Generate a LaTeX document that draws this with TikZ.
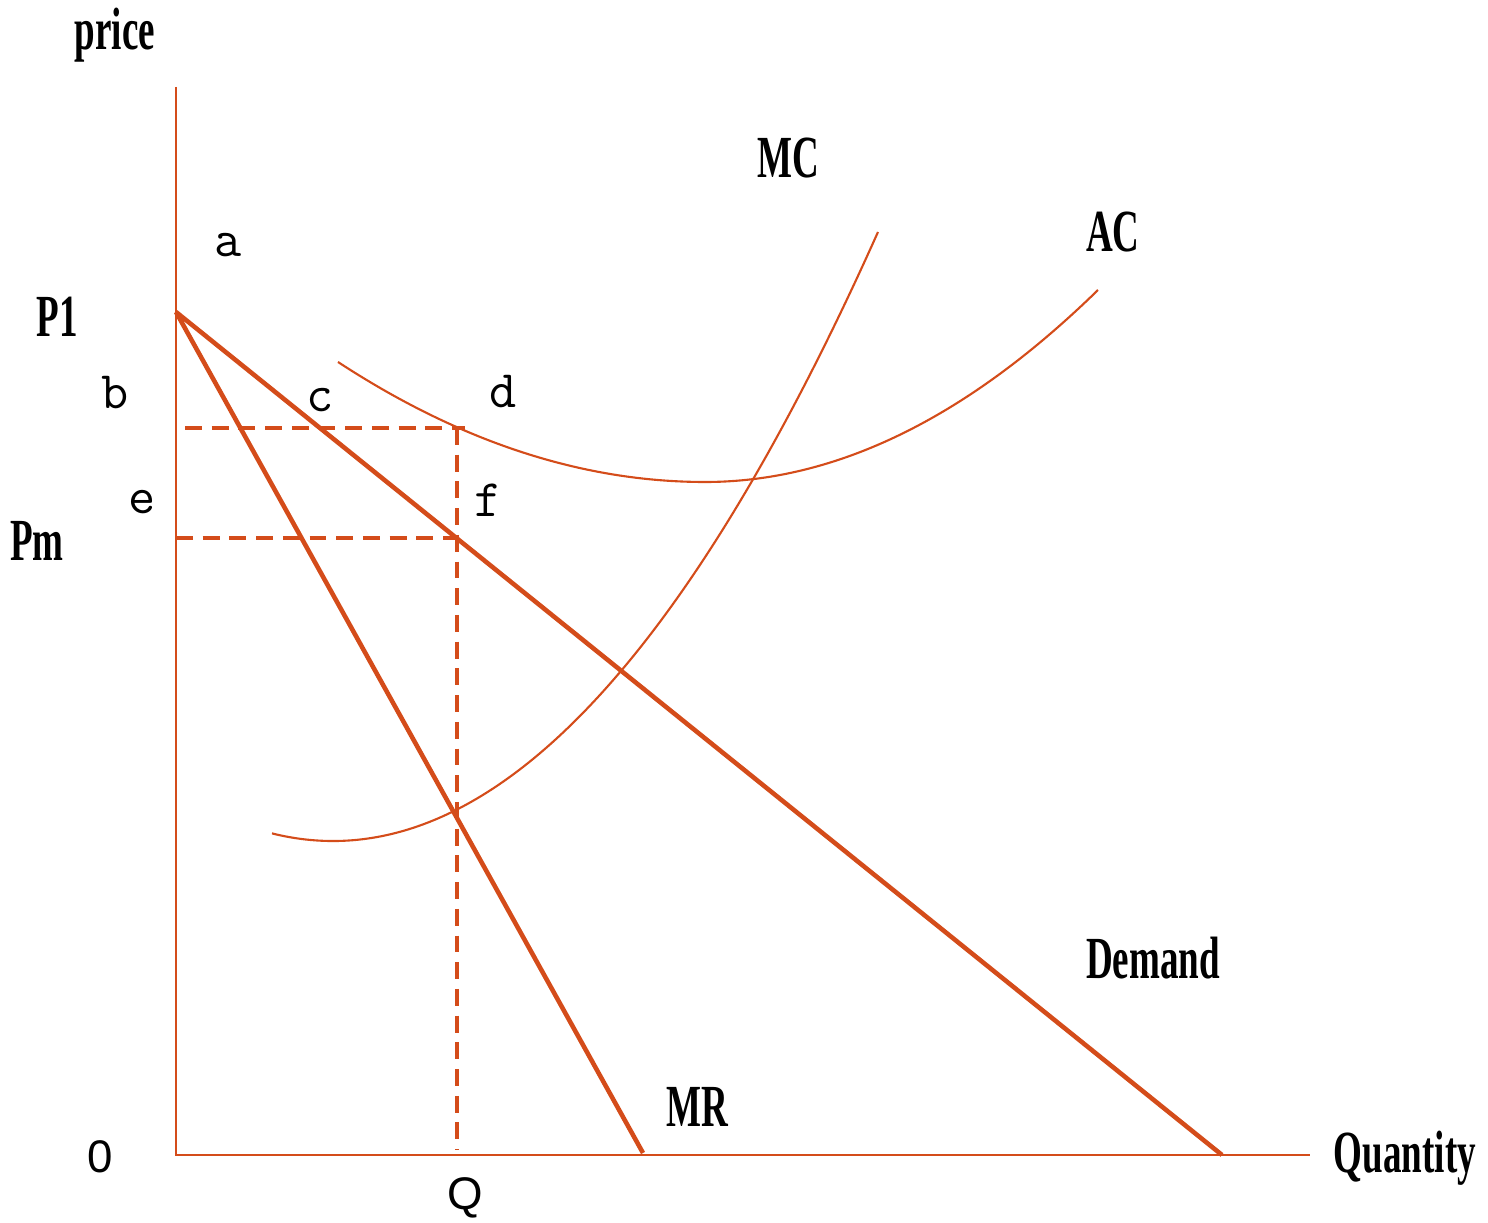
\documentclass[tikz,border=0pt]{standalone}
\usepackage{fontspec}
\usepackage{tikz}
\usetikzlibrary{positioning}
\newfontfamily\slabfont[FakeStretch=0.62]{Liberation Serif}
\newfontfamily\plainsans{Liberation Sans}
\definecolor{monored}{RGB}{212,76,26}

\begin{document}
\begin{tikzpicture}[
  axis/.style={monored, line width=0.7pt},
  curve/.style={monored, line width=1.3pt},
  costcurve/.style={monored, line width=0.6pt},
  guide/.style={monored, line width=1.4pt, dash pattern=on 4.8pt off 2.8pt},
  title/.style={font=\slabfont\bfseries\fontsize{17}{17}\selectfont, inner sep=0pt},
  point/.style={font=\ttfamily\fontsize{15}{15}\selectfont, inner sep=0pt},
  tick/.style={font=\plainsans\fontsize{13}{13}\selectfont, inner sep=0pt}
]
\useasboundingbox (0,0) rectangle (14.88,12.23);
\coordinate (O)    at (1.76,0.68);
\coordinate (ytop) at (1.76,11.36);
\coordinate (xend) at (13.10,0.68);
\coordinate (P1)   at (1.76,9.11);
\coordinate (dq)   at (12.22,0.68);
\coordinate (mrq)  at (6.43,0.70);
\coordinate (ps)   at (1.85,7.95);
\coordinate (pd)   at (4.65,7.95);
\coordinate (pm)   at (1.76,6.85);
\coordinate (pf)   at (4.57,6.85);
\coordinate (qtop) at (4.57,7.95);
\coordinate (qbot) at (4.57,0.73);

\draw[axis] (ytop) -- (O) -- (xend);
\draw[curve] (P1) -- (dq);
\draw[curve] (P1) -- (mrq);
\draw[guide] (ps) -- (pd);
\draw[guide] (pm) -- (pf);
\draw[guide] (qtop) -- (qbot);
\draw[costcurve] (2.72,3.896) .. controls (4.74,3.391) and (6.76,5.395) .. (8.78,9.91);
\draw[costcurve] (3.38,8.61) .. controls (4.603,7.81) and (5.827,7.41) .. (7.05,7.41)
  .. controls (8.36,7.41) and (9.67,8.05) .. (10.98,9.33);

\node[title] (price)  at (1.15,11.88) {price};
\node[title] (p1lab)  at (0.57,9.06)  {P1};
\node[title] (pmlab)  at (0.37,6.82)  {Pm};
\node[title] (mclab)  at (7.88,10.65) {MC};
\node[title] (aclab)  at (11.13,9.91) {AC};
\node[title] (dlab)   at (11.53,2.65) {Demand};
\node[title] (mrlab)  at (6.97,1.16)  {MR};
\node[title] (qlab)   at (14.05,0.65) {Quantity};
\node[point] (a) at (2.28,9.78) {a};
\node[point] (b) at (1.15,8.30) {b};
\node[point] (c) at (3.20,8.23) {c};
\node[point] (d) at (5.03,8.31) {d};
\node[point] (e) at (1.42,7.21) {e};
\node[point] (f) at (4.88,7.23) {f};
\node[tick] (zero) at (1.00,0.66) {0};
\node[tick] (Q)    at (4.65,0.25) {Q};
\end{tikzpicture}
\end{document}
